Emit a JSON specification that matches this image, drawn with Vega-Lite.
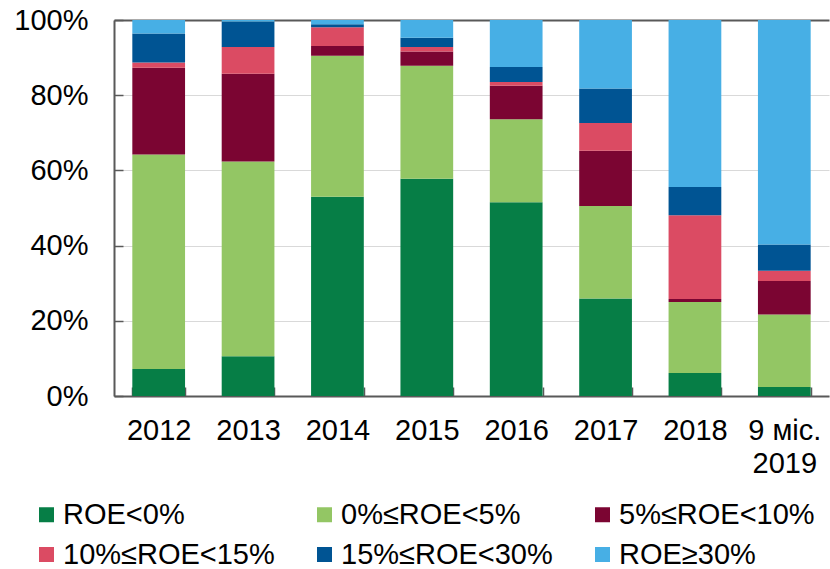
{
  "$schema": "https://vega.github.io/schema/vega-lite/v6.json",
  "width": 715,
  "height": 376,
  "autosize": {"type": "none"},
  "padding": {"left": 114, "top": 20, "right": 1, "bottom": 173},
  "background": "white",
  "data": {
    "values": [
      {"p": "2012", "c": "ROE<0%", "k": 1, "v": 7.2},
      {"p": "2012", "c": "0%≤ROE<5%", "k": 2, "v": 57.0},
      {"p": "2012", "c": "5%≤ROE<10%", "k": 3, "v": 23.1},
      {"p": "2012", "c": "10%≤ROE<15%", "k": 4, "v": 1.4},
      {"p": "2012", "c": "15%≤ROE<30%", "k": 5, "v": 7.7},
      {"p": "2012", "c": "ROE≥30%", "k": 6, "v": 3.6},
      {"p": "2013", "c": "ROE<0%", "k": 1, "v": 10.6},
      {"p": "2013", "c": "0%≤ROE<5%", "k": 2, "v": 51.8},
      {"p": "2013", "c": "5%≤ROE<10%", "k": 3, "v": 23.3},
      {"p": "2013", "c": "10%≤ROE<15%", "k": 4, "v": 7.1},
      {"p": "2013", "c": "15%≤ROE<30%", "k": 5, "v": 6.8},
      {"p": "2013", "c": "ROE≥30%", "k": 6, "v": 0.4},
      {"p": "2014", "c": "ROE<0%", "k": 1, "v": 53.0},
      {"p": "2014", "c": "0%≤ROE<5%", "k": 2, "v": 37.5},
      {"p": "2014", "c": "5%≤ROE<10%", "k": 3, "v": 2.6},
      {"p": "2014", "c": "10%≤ROE<15%", "k": 4, "v": 5.0},
      {"p": "2014", "c": "15%≤ROE<30%", "k": 5, "v": 0.8},
      {"p": "2014", "c": "ROE≥30%", "k": 6, "v": 1.1},
      {"p": "2015", "c": "ROE<0%", "k": 1, "v": 57.8},
      {"p": "2015", "c": "0%≤ROE<5%", "k": 2, "v": 30.0},
      {"p": "2015", "c": "5%≤ROE<10%", "k": 3, "v": 3.8},
      {"p": "2015", "c": "10%≤ROE<15%", "k": 4, "v": 1.2},
      {"p": "2015", "c": "15%≤ROE<30%", "k": 5, "v": 2.5},
      {"p": "2015", "c": "ROE≥30%", "k": 6, "v": 4.7},
      {"p": "2016", "c": "ROE<0%", "k": 1, "v": 51.5},
      {"p": "2016", "c": "0%≤ROE<5%", "k": 2, "v": 22.1},
      {"p": "2016", "c": "5%≤ROE<10%", "k": 3, "v": 8.9},
      {"p": "2016", "c": "10%≤ROE<15%", "k": 4, "v": 1.0},
      {"p": "2016", "c": "15%≤ROE<30%", "k": 5, "v": 4.0},
      {"p": "2016", "c": "ROE≥30%", "k": 6, "v": 12.5},
      {"p": "2017", "c": "ROE<0%", "k": 1, "v": 25.9},
      {"p": "2017", "c": "0%≤ROE<5%", "k": 2, "v": 24.6},
      {"p": "2017", "c": "5%≤ROE<10%", "k": 3, "v": 14.7},
      {"p": "2017", "c": "10%≤ROE<15%", "k": 4, "v": 7.4},
      {"p": "2017", "c": "15%≤ROE<30%", "k": 5, "v": 9.2},
      {"p": "2017", "c": "ROE≥30%", "k": 6, "v": 18.2},
      {"p": "2018", "c": "ROE<0%", "k": 1, "v": 6.1},
      {"p": "2018", "c": "0%≤ROE<5%", "k": 2, "v": 18.9},
      {"p": "2018", "c": "5%≤ROE<10%", "k": 3, "v": 0.8},
      {"p": "2018", "c": "10%≤ROE<15%", "k": 4, "v": 22.3},
      {"p": "2018", "c": "15%≤ROE<30%", "k": 5, "v": 7.5},
      {"p": "2018", "c": "ROE≥30%", "k": 6, "v": 44.4},
      {"p": "9 міс. 2019", "c": "ROE<0%", "k": 1, "v": 2.4},
      {"p": "9 міс. 2019", "c": "0%≤ROE<5%", "k": 2, "v": 19.3},
      {"p": "9 міс. 2019", "c": "5%≤ROE<10%", "k": 3, "v": 8.9},
      {"p": "9 міс. 2019", "c": "10%≤ROE<15%", "k": 4, "v": 2.7},
      {"p": "9 міс. 2019", "c": "15%≤ROE<30%", "k": 5, "v": 7.0},
      {"p": "9 міс. 2019", "c": "ROE≥30%", "k": 6, "v": 59.7}
    ]
  },
  "mark": {"type": "bar"},
  "encoding": {
    "x": {
      "field": "p",
      "type": "nominal",
      "sort": ["2012", "2013", "2014", "2015", "2016", "2017", "2018", "9 міс. 2019"],
      "scale": {"paddingInner": 0.41, "paddingOuter": 0.205},
      "axis": {
        "title": null,
        "labelAngle": 0,
        "labelExpr": "datum.value == '9 міс. 2019' ? ['9 міс.', '2019'] : datum.value",
        "labelLineHeight": 33,
        "labelPadding": 29,
        "tickBand": "extent",
        "tickSize": -9,
        "tickWidth": 1.5,
        "tickColor": "#595959",
        "domainColor": "#595959",
        "domainWidth": 2
      }
    },
    "y": {
      "field": "v",
      "type": "quantitative",
      "stack": "normalize",
      "scale": {"domain": [0, 1], "nice": false},
      "axis": {
        "title": null,
        "values": [0, 0.2, 0.4, 0.6, 0.8, 1],
        "format": ".0%",
        "grid": true,
        "gridColor": {"condition": {"test": "datum.value == 1", "value": "#595959"}, "value": "#d9d9d9"},
        "gridWidth": {"condition": {"test": "datum.value == 1", "value": 2}, "value": 1},
        "tickSize": -9,
        "tickWidth": 1.5,
        "tickColor": "#595959",
        "labelPadding": 35,
        "domainColor": "#595959",
        "domainWidth": 2
      }
    },
    "color": {
      "field": "c",
      "type": "nominal",
      "scale": {
        "domain": ["ROE<0%", "0%≤ROE<5%", "5%≤ROE<10%", "10%≤ROE<15%", "15%≤ROE<30%", "ROE≥30%"],
        "range": ["#067E46", "#93C664", "#7B0532", "#DB4B63", "#005493", "#47AFE5"]
      },
      "legend": {
        "title": null,
        "orient": "none",
        "legendX": -82,
        "legendY": 480,
        "direction": "horizontal",
        "columns": 3,
        "gridAlign": "each",
        "columnPadding": 35,
        "rowPadding": 10,
        "symbolType": "square",
        "symbolSize": 225,
        "symbolStrokeWidth": 0,
        "labelOffset": 2,
        "labelFont": "Liberation Sans",
        "labelFontSize": 29,
        "labelColor": "#000000",
        "labelLimit": 400,
        "padding": 0
      }
    },
    "order": {"field": "k", "type": "quantitative", "sort": "ascending"}
  },
  "config": {
    "view": {"stroke": null},
    "axis": {
      "labelFont": "Liberation Sans",
      "labelFontSize": 29,
      "labelColor": "#000000"
    }
  }
}
